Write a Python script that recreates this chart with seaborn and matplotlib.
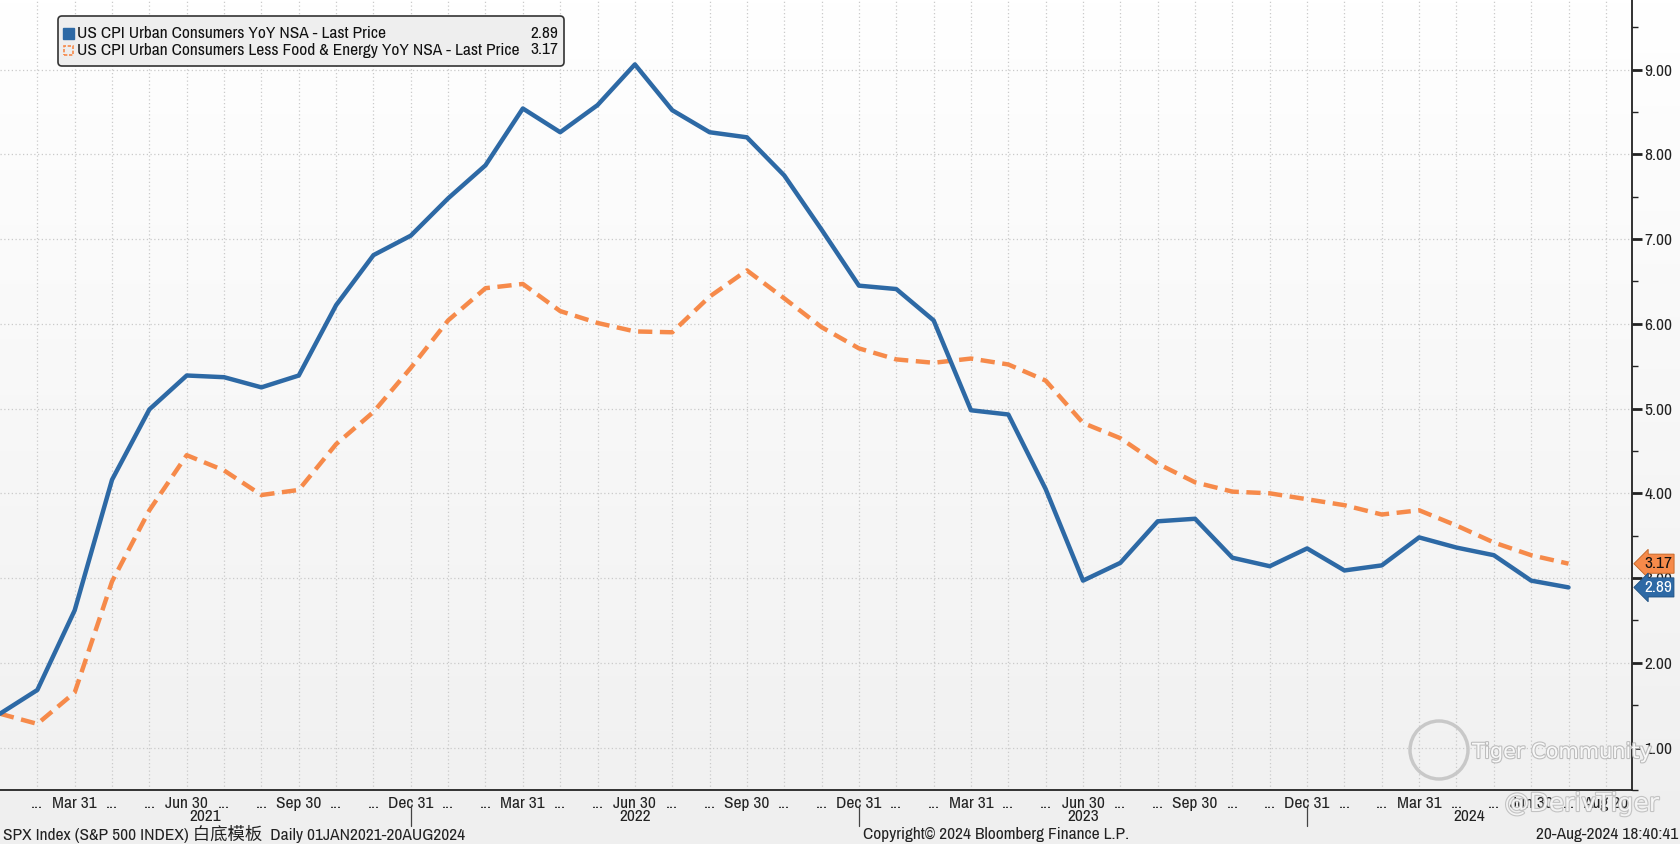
import numpy as np
import pandas as pd
import matplotlib
matplotlib.use("Agg")
import matplotlib.pyplot as plt
import seaborn as sns
from matplotlib import font_manager
import matplotlib.patheffects as pe
from matplotlib.patches import FancyBboxPatch, Rectangle, Circle
from matplotlib.transforms import IdentityTransform, blended_transform_factory
from matplotlib.colors import LinearSegmentedColormap

# ---------------- data ----------------
months = pd.date_range("2021-01-31", "2024-07-31", freq="ME")
cpi_yoy = [1.40, 1.68, 2.62, 4.16, 4.99, 5.39, 5.37, 5.25, 5.39, 6.22, 6.81, 7.04,
           7.48, 7.87, 8.54, 8.26, 8.58, 9.06, 8.52, 8.26, 8.20, 7.75, 7.11, 6.45,
           6.41, 6.04, 4.98, 4.93, 4.05, 2.97, 3.18, 3.67, 3.70, 3.24, 3.14, 3.35,
           3.09, 3.15, 3.48, 3.36, 3.27, 2.97, 2.89]
core_yoy = [1.40, 1.28, 1.65, 2.96, 3.80, 4.45, 4.27, 3.98, 4.04, 4.58, 4.96, 5.48,
            6.04, 6.42, 6.47, 6.15, 6.01, 5.91, 5.90, 6.32, 6.63, 6.30, 5.96, 5.71,
            5.58, 5.54, 5.59, 5.52, 5.33, 4.83, 4.65, 4.35, 4.13, 4.02, 4.00, 3.93,
            3.86, 3.75, 3.80, 3.62, 3.42, 3.27, 3.17]
series_names = ["US CPI Urban Consumers YoY NSA - Last Price",
                "US CPI Urban Consumers Less Food & Energy YoY NSA - Last Price"]
last_values = ["2.89", "3.17"]
x_tick_labels = ["Mar 31", "Jun 30", "Sep 30", "Dec 31"]
years = ["2021", "2022", "2023", "2024"]
y_ticks = [1, 2, 3, 4, 5, 6, 7, 8, 9]

BLUE = "#2d69a5"
ORANGE = "#f68a4a"

# ---------------- fonts ----------------
sns.set_theme(style="white")
narrow = None
for f in font_manager.fontManager.ttflist:
    if "Narrow" in f.name:
        narrow = (f.name, "normal")
        break
if narrow is None:
    for f in font_manager.fontManager.ttflist:
        if f.stretch in ("condensed", "semi-condensed") and f.name == "DejaVu Sans":
            narrow = ("DejaVu Sans", "condensed")
            break
if narrow is None:
    narrow = ("DejaVu Sans", "normal")
plt.rcParams["font.family"] = [narrow[0], "DejaVu Sans", "Noto Sans CJK SC"]
plt.rcParams["font.stretch"] = narrow[1]
fs = 12.5 if "Narrow" in narrow[0] else 10

W, H = 1681, 844
fig = plt.figure(figsize=(W / 100, H / 100), dpi=100)

# figure background gradient
bgax = fig.add_axes([0, 0, 1, 1], zorder=-5)
bgax.imshow(np.linspace(0, 1, 256).reshape(-1, 1), extent=[0, 1, 0, 1],
            cmap=LinearSegmentedColormap.from_list("bg0", ["#efefef", "#ffffff"]),
            aspect="auto", origin="lower")
bgax.set_axis_off()

ax = fig.add_axes([0, 1 - 790 / H, 1632 / W, 790 / H])

df = pd.DataFrame({"idx": np.arange(len(months)), "cpi": cpi_yoy, "core": core_yoy})

cmap = LinearSegmentedColormap.from_list("bg", ["#f1f1f1", "#ffffff"])
ax.imshow(np.linspace(0, 1, 256).reshape(-1, 1), extent=[0, 1, 0, 1],
          transform=ax.transAxes, cmap=cmap, aspect="auto", zorder=0,
          origin="lower")

sns.lineplot(data=df, x="idx", y="core", ax=ax, color=ORANGE, lw=3.2,
             linestyle=(0, (3.2, 1.7)), zorder=3)
sns.lineplot(data=df, x="idx", y="cpi", ax=ax, color=BLUE, lw=3.2, zorder=4)

ax.set_xlim(0, 43.7)
ax.set_ylim(0.5, 9.82)
ax.set_xlabel("")
ax.set_ylabel("")

# x ticks: every month, label quarter ends
xt = list(range(1, 44))
labels = []
for i in xt:
    if i == 43:
        labels.append("Aug 20")
    elif i % 3 == 2:
        labels.append(x_tick_labels[(i // 3) % 4])
    else:
        labels.append("...")
ax.set_xticks(xt)
ax.set_xticklabels(labels, fontsize=fs, color="#222222")
ax.tick_params(axis="x", direction="out", length=4, width=1, color="#333333", pad=0)

# y ticks on right
ax.yaxis.tick_right()
ax.set_yticks(y_ticks)
ax.set_yticklabels([f"{v:.2f}" for v in y_ticks], fontsize=fs, color="#222222")
ax.set_yticks(np.arange(0.5, 9.8, 0.5), minor=True)
ax.tick_params(axis="y", which="major", direction="out", length=7, width=2, color="#222222", pad=2)
ax.tick_params(axis="y", which="minor", direction="out", length=4, width=1, color="#222222", right=True)

ax.grid(True, which="major", axis="both", linestyle=(0, (1, 2)), color="#cacaca", lw=0.9)
for s in ["top", "left"]:
    ax.spines[s].set_visible(False)
for s in ["right", "bottom"]:
    ax.spines[s].set_color("#222222")
    ax.spines[s].set_linewidth(1.3)

# year labels and separators
bt = blended_transform_factory(ax.transData, ax.transAxes)
for xs in [11, 23, 35]:
    ax.plot([xs, xs], [-0.021, -0.046], transform=bt, color="#444444", lw=0.9, clip_on=False)
for yr, xc in zip(years, [5.5, 17, 29, 39.35]):
    ax.text(xc, -0.033, yr, transform=bt, ha="center", va="center", fontsize=fs, color="#222222")

# right value tags
ty = blended_transform_factory(ax.transAxes, ax.transData)
ax.text(1.0 + 12 / 1632, core_yoy[-1], last_values[1], transform=ty, ha="left", va="center",
        fontsize=fs, color="#111111", zorder=10, clip_on=False,
        bbox=dict(boxstyle="larrow,pad=0.12", fc=ORANGE, ec="#c06020", lw=0.6))
ax.text(1.0 + 12 / 1632, cpi_yoy[-1], last_values[0], transform=ty, ha="left", va="center",
        fontsize=fs, color="white", zorder=10, clip_on=False,
        bbox=dict(boxstyle="larrow,pad=0.12", fc=BLUE, ec="#1d4f80", lw=0.6))

# legend box (pixel coords, origin bottom-left)
pt = IdentityTransform()
fig.add_artist(FancyBboxPatch((58, H - 66), 506, 50, boxstyle="round,pad=0,rounding_size=4",
                              transform=pt, fc="#eeeeee", ec="#333333", lw=1.2, zorder=20))
fig.add_artist(Rectangle((63, H - 39), 11, 11, transform=pt, fc=BLUE, ec=BLUE, zorder=21))
fig.add_artist(Rectangle((64, H - 55), 9, 9, transform=pt, fc="none", ec=ORANGE, lw=1.2,
                         ls=(0, (2, 1)), zorder=21))
for row, (nm, val) in enumerate(zip(series_names, last_values)):
    yy = H - 33 - row * 17
    fig.text(77, yy, nm, transform=pt, ha="left", va="center", fontsize=fs, color="#111111", zorder=22)
    fig.text(558, yy, val, transform=pt, ha="right", va="center", fontsize=fs, color="#111111", zorder=22)

# watermark (hollow grey lettering)
wm = [pe.withStroke(linewidth=1.6, foreground="#b8b8b8")]
fig.add_artist(Circle((1439, H - 750), 29, transform=pt, fc="none", ec="#c4c4c4", lw=2.5, alpha=0.9, zorder=15))
fig.text(1562, H - 752, "Tiger Community", transform=pt, ha="center", va="center",
         fontsize=15, color="white", alpha=0.9, zorder=15, family=["DejaVu Sans"],
         stretch="normal", path_effects=wm)
fig.text(1582, H - 804, "@DerivTiger", transform=pt, ha="center", va="center",
         fontsize=18, color="white", alpha=0.8, zorder=15, family=["DejaVu Sans"],
         stretch="normal", path_effects=wm)

# footer
fig.text(3, H - 834, "SPX Index (S&P 500 INDEX) 白底模板  Daily 01JAN2021-20AUG2024", transform=pt,
         ha="left", va="center", fontsize=fs, color="#222222")
fig.text(996, H - 834, "Copyright© 2024 Bloomberg Finance L.P.", transform=pt,
         ha="center", va="center", fontsize=fs, color="#222222")
fig.text(1678, H - 834, "20-Aug-2024 18:40:41", transform=pt,
         ha="right", va="center", fontsize=fs, color="#222222")

fig.savefig("out.png", dpi=100)
